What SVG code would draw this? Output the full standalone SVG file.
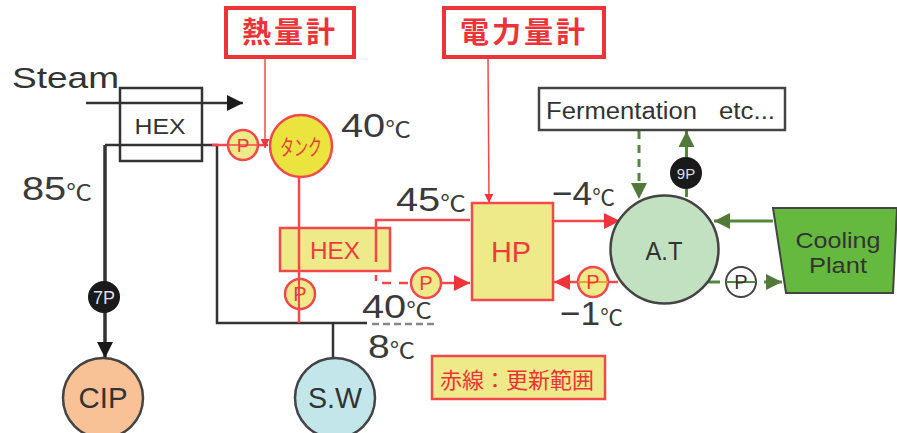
<svg xmlns="http://www.w3.org/2000/svg" width="897" height="433" viewBox="0 0 897 433">
<style>
text{font-family:"Liberation Sans","Noto Sans CJK JP",sans-serif;fill:#333;text-anchor:middle}
.cjk{font-family:"Noto Sans CJK JP",sans-serif;font-weight:700;fill:#ee3338}
.red{fill:#ee3a3a}
.temp{font-size:34px;fill:#3a3a3a;text-anchor:start}
.unit{font-size:22px}
.line{fill:none;stroke:#333;stroke-width:2.5}
.redl{fill:none;stroke:#f2484c;stroke-width:2.5}
.grn{fill:none;stroke:#4f8a3c;stroke-width:3}
.node{stroke:#f2484c;stroke-width:2.5;fill:#eeea8a}
.pump{fill:#eeea8a;stroke:#f2484c;stroke-width:2.5}
.blk{fill:#1a1a1a}
.wt{fill:#dde;font-size:15px}
</style>
<defs>
<marker id="ar" viewBox="0 0 10 10" refX="10" refY="5" markerWidth="16" markerHeight="16" markerUnits="userSpaceOnUse" orient="auto"><path d="M0 0L10 5L0 10Z" fill="#f0343a"/></marker>
<marker id="as" viewBox="0 0 10 10" refX="10" refY="5" markerWidth="9" markerHeight="9" markerUnits="userSpaceOnUse" orient="auto"><path d="M0 0L10 5L0 10Z" fill="#f0343a"/></marker>
<marker id="ag" viewBox="0 0 10 10" refX="10" refY="5" markerWidth="16" markerHeight="16" markerUnits="userSpaceOnUse" orient="auto"><path d="M0 0L10 5L0 10Z" fill="#53793a"/></marker>
<marker id="ab" viewBox="0 0 10 10" refX="10" refY="5" markerWidth="16" markerHeight="16" markerUnits="userSpaceOnUse" orient="auto"><path d="M0 0L10 5L0 10Z" fill="#1a1a1a"/></marker>
</defs>
<g id="connectors">
<path class="line" d="M86 103H243" marker-end="url(#ab)"/>
<path class="line" d="M105 145V358" style="stroke-width:3.5" marker-end="url(#ab)"/>
<path class="line" d="M105 145H217V323H367"/>
<path class="line" d="M333 323V358"/>
<path class="line" d="M372 324H435" style="stroke:#888;stroke-dasharray:7 4"/>
<path class="redl" d="M212 145H268"/>
<path class="redl" d="M265 58V148" style="stroke-width:1.5" marker-end="url(#as)"/>
<path class="redl" d="M299 177V323"/>
<path class="redl" d="M470 220H376V262"/>
<path class="redl" d="M376 262V281" style="stroke-dasharray:6 7"/>
<path class="redl" d="M382 283H411" style="stroke-dasharray:9 8"/>
<path class="redl" d="M441 283H470" marker-end="url(#ar)"/>
<path class="redl" d="M488 58L489 203" style="stroke-width:1.5" marker-end="url(#as)"/>
<path class="redl" d="M553 221H620" marker-end="url(#ar)"/>
<path class="redl" d="M618 282H606M578 282H554" marker-end="url(#ar)"/>
<path class="grn" d="M639 131V199" style="stroke-dasharray:8 6" marker-end="url(#ag)"/>
<path class="grn" d="M686.5 197V131" marker-end="url(#ag)"/>
<path class="grn" d="M773 221H714" marker-end="url(#ag)"/>
<path class="grn" d="M708 282H720"/>
<path class="grn" d="M764 282H782" marker-end="url(#ag)"/>
</g>
<g id="steam"><text x="12" y="88" font-size="30" style="text-anchor:start" textLength="107" lengthAdjust="spacingAndGlyphs">Steam</text></g>
<g id="hex1"><rect x="120" y="88" width="82" height="73" fill="none" stroke="#333" stroke-width="2.5"/><text x="160" y="134" font-size="22" textLength="51" lengthAdjust="spacingAndGlyphs">HEX</text></g>
<g id="heat-meter"><rect x="226" y="8" width="128" height="49" fill="#fff" stroke="#ee3338" stroke-width="4"/><text class="cjk" x="290" y="43" font-size="29" letter-spacing="3">熱量計</text></g>
<g id="power-meter"><rect x="444" y="8" width="160" height="49" fill="#fff" stroke="#ee3338" stroke-width="4"/><text class="cjk" x="524" y="43" font-size="29" letter-spacing="3">電力量計</text></g>
<g id="p1"><circle class="pump" cx="243" cy="145" r="15"/><path d="M228 145H258" stroke="#f2484c" stroke-width="1.5"/><text class="red" x="243" y="152" font-size="19">P</text></g>
<g id="tank"><circle cx="301" cy="146" r="31" fill="#ebe33e" stroke="#f2484c" stroke-width="2.5"/><text class="red" x="301" y="155" font-size="22" style="font-family:'Noto Sans CJK JP',sans-serif" textLength="42" lengthAdjust="spacingAndGlyphs">タンク</text></g>
<g id="hex2"><rect class="node" x="280" y="228" width="110" height="43"/><path d="M299 228V271M376 228V262" stroke="#f2484c" stroke-width="2.5"/><text class="red" x="335" y="259" font-size="24" textLength="50" lengthAdjust="spacingAndGlyphs">HEX</text></g>
<g id="p2"><circle class="pump" cx="300" cy="294" r="15"/><path d="M299 279V309" stroke="#f2484c" stroke-width="2"/><text class="red" x="300" y="301" font-size="20">P</text></g>
<g id="p3"><circle class="pump" cx="426" cy="283" r="15"/><text class="red" x="426" y="290" font-size="20">P</text></g>
<g id="hp"><rect class="node" x="472" y="203" width="81" height="97"/><text class="red" x="511" y="262" font-size="30" textLength="40" lengthAdjust="spacingAndGlyphs">HP</text></g>
<g id="p4"><circle class="pump" cx="593" cy="282" r="15"/><path d="M578 282H608" stroke="#f0a030" stroke-width="2"/><text class="red" x="593" y="289" font-size="20">P</text></g>
<g id="at"><circle cx="664.5" cy="249.5" r="54" fill="#c2e1c0" stroke="#444" stroke-width="2.5"/><text x="664" y="260" font-size="26" textLength="37" lengthAdjust="spacingAndGlyphs">A.T</text></g>
<g id="fermentation"><rect x="539" y="88" width="246" height="42" fill="#fff" stroke="#444" stroke-width="2.5"/><text x="546" y="119" font-size="23" style="text-anchor:start" textLength="151" lengthAdjust="spacingAndGlyphs">Fermentation</text><text x="719" y="119" font-size="23" style="text-anchor:start" textLength="56" lengthAdjust="spacingAndGlyphs">etc...</text></g>
<g id="p9"><circle class="blk" cx="686" cy="173" r="16"/><text class="wt" x="686" y="179">9P</text></g>
<g id="cooling"><path d="M773 208H897L893 293H786Z" fill="#66b93f" stroke="#444" stroke-width="2"/><text x="838" y="248" font-size="22" textLength="85" lengthAdjust="spacingAndGlyphs">Cooling</text><text x="838" y="273" font-size="22" textLength="58" lengthAdjust="spacingAndGlyphs">Plant</text></g>
<g id="p5"><circle cx="741" cy="282" r="15" fill="#fff" fill-opacity=".6" stroke="#444" stroke-width="2"/><path d="M726 282H756" stroke="#4f8a3c" stroke-width="2"/><text x="741" y="289" font-size="20">P</text></g>
<g id="p7"><circle class="blk" cx="104" cy="297" r="16"/><text class="wt" x="104" y="304" style="font-size:18px">7P</text></g>
<g id="cip"><circle cx="103" cy="398" r="40" fill="#f9c196" stroke="#444" stroke-width="2.5"/><text x="103" y="408" font-size="30" textLength="49" lengthAdjust="spacingAndGlyphs">CIP</text></g>
<g id="sw"><circle cx="335" cy="398" r="40" fill="#c3e6eb" stroke="#444" stroke-width="2.5"/><text x="335" y="408" font-size="30" textLength="54" lengthAdjust="spacingAndGlyphs">S.W</text></g>
<g id="temps">
<text class="temp" x="341" y="137" textLength="70" lengthAdjust="spacingAndGlyphs">40<tspan class="unit">℃</tspan></text>
<text class="temp" x="22" y="200" textLength="70" lengthAdjust="spacingAndGlyphs">85<tspan class="unit">℃</tspan></text>
<text class="temp" x="396" y="211" textLength="70" lengthAdjust="spacingAndGlyphs">45<tspan class="unit">℃</tspan></text>
<text class="temp" x="552" y="205" textLength="63" lengthAdjust="spacingAndGlyphs">−4<tspan class="unit">℃</tspan></text>
<text class="temp" x="560" y="325" textLength="63" lengthAdjust="spacingAndGlyphs">−1<tspan class="unit">℃</tspan></text>
<text class="temp" x="362" y="318" textLength="70" lengthAdjust="spacingAndGlyphs">40<tspan class="unit">℃</tspan></text>
<text class="temp" x="368" y="358" textLength="47" lengthAdjust="spacingAndGlyphs">8<tspan class="unit">℃</tspan></text>
</g>
<g id="legend"><rect class="node" x="432" y="356" width="173" height="43"/><text x="517" y="388" font-size="22" class="cjk" style="font-weight:400">赤線：更新範囲</text></g>
</svg>
